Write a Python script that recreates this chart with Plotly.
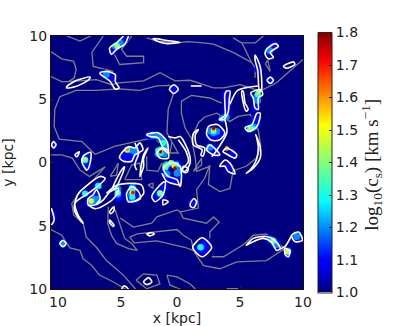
import plotly.graph_objects as go

NAVY = "#00007f"
GRAY = "#808080"

JET = [
    [0.0, "rgb(0,0,127)"], [0.11, "rgb(0,0,255)"], [0.125, "rgb(0,0,255)"],
    [0.35, "rgb(0,255,255)"], [0.375, "rgb(20,255,226)"], [0.64, "rgb(255,255,0)"],
    [0.66, "rgb(255,238,0)"], [0.89, "rgb(255,0,0)"], [1.0, "rgb(127,0,0)"],
]

TICKS = [-10, -5, 0, 5, 10]
# the minus signs do not show in the original, only the gap they leave
X_TICK_LABELS = ["\u200310", "\u20035", "0", "5", "10"]
Y_TICK_LABELS = ["10", "5", "0", "5", "10"]
CBAR_TICKS = [1.0, 1.1, 1.2, 1.3, 1.4, 1.5, 1.6, 1.7, 1.8]

# grey contours, kpc
gray_paths = [
    [(-10, 8.75), (-9.15, 8.2), (-8.2, 8), (-8, 7.35), (-8.15, 6.7), (-8.6, 6.4), (-9.15, 6.4), (-10, 6.8)],
    [(-4.9, 5.8), (-6.4, 5.7), (-8, 5.7), (-9.3, 5.2), (-9.7, 4.2), (-9.75, 2.85), (-9.35, 1.85), (-7.55, 1.65),
     (-6.5, 0.65), (-4.9, 1.3), (-2.4, 1.85), (-1.35, 1.95)],
    [(-8.6, 6.4), (-6.4, 6.55), (-5.2, 6.15), (-4.65, 6.3), (-2.65, 6.45), (-1.35, 7.1), (-0.15, 6.45), (1.05, 6.5),
     (2.9, 5.9), (3.7, 5.9), (5, 6.15), (6.6, 5.65), (7.9, 6.3), (10, 8.15)],
    [(-5.05, 5.85), (-2.95, 5.7), (-1.6, 6.05), (-0.55, 6.1), (-0.3, 5.35), (-0.7, 4.2), (-0.8, 2.35), (-0.4, 1.65),
     (0.1, 0.75), (-0.55, 0.75), (-0.4, 1.65)],
    [(1.15, 1.9), (0.65, 2.7), (0.35, 3.9), (0.35, 4.85), (1.15, 5.3), (2.6, 5.1), (3.55, 4.7)],
    [(1.15, 1.9), (1.7, 3.15), (2.2, 3.6), (3.15, 3.9), (4.2, 3.25), (4.85, 3.65), (5.8, 3.8), (6.45, 2.6), (6.65, 1.3),
     (6.3, 0.35), (5.5, -0.3), (4.45, -0.65), (4.2, -2.05), (3.4, -2.3), (2.5, -1.75), (2.6, -0.3), (1.55, -0.7),
     (1.45, 0.35), (1.15, 1.9)],
    [(2.6, -0.2), (2.2, -1.25), (1.55, -2.15), (1.7, -3.6), (0.25, -3.9), (0.5, -4.4), (2.35, -4.8), (2.9, -4.3),
     (3.35, -4.7), (2.6, -5.5), (2.6, -6)],
    [(-10, -5.3), (-9.15, -5.75), (-8.5, -6.75), (-7.7, -6.95), (-7.45, -7.6), (-6.8, -8.1), (-6.15, -8.9),
     (-5.05, -9.45), (-4.1, -10)],
    [(-7.7, -2.3), (-8.35, -3.25), (-8.2, -4.15), (-7.45, -4.8), (-7.2, -5.9), (-6.4, -6.7), (-5.6, -7.75),
     (-4.25, -8.9), (-3.3, -10)],
    [(-5.45, -3.5), (-5.5, -4.8), (-5.2, -5.75), (-4.8, -6.4), (-3.85, -6.8), (-3.15, -6.95), (-3.6, -6.4),
     (-4.15, -6), (-4.65, -4.55), (-4.9, -3.75)],
    [(-4.5, -4.4), (-3.45, -5.1), (-2, -4.8), (-1.6, -4.3), (0, -3.75), (0.25, -3.9)],
    [(-3.75, -5.9), (-3.15, -5.65), (0, -5.3), (0.5, -5.75), (1.15, -6.15), (1.3, -6.95), (2.1, -8.15), (3.4, -8.4),
     (4.75, -7.85), (7.1, -7.75), (8.55, -6.8)],
    [(-3.75, -5.9), (-3.4, -6.35), (-1.6, -6.2), (0.6, -6.7), (1.3, -6.95)],
    [(2.75, -7.45), (3.7, -7.45), (5.4, -6.4), (6.05, -5.75), (7.1, -5.65), (7.9, -6.25), (8.55, -6.8), (9.1, -5.75),
     (9.35, -5.5), (10, -6)],
    [(-0.8, -8.9), (0, -9.05), (1.05, -9.6), (1.45, -10)],
    [(-0.8, -8.9), (-0.55, -9.7), (0.25, -10)],
    [(-3.25, -9.3), (-2.65, -8.8), (-1.6, -8.9), (-1.35, -9.6), (-2.4, -9.98), (-3.25, -9.3)],
    [(3.95, -9.97), (4.85, -9.97)],
    [(-10, 0.6), (-9.15, 0.6), (-8.3, 0.35), (-7.7, -0.6), (-6.95, -1.1), (-5.7, -0.35), (-6.75, -1.5), (-7.7, -2.3)],
    [(-5.3, -1.1), (-4.65, -0.05), (-4.8, -1), (-5.3, -1.1)],
    [(-4.15, -1.35), (-3.6, -0.2), (-2.95, -0.05), (-2.8, -1.35), (-4.15, -1.35)],
    [(-2.3, -1.75), (-1.9, -1.65), (-1.9, -2.05), (-2.3, -1.75)],
    [(-1.75, 1.95), (-1.35, 1.8), (-1.4, 1.55), (-1.75, 1.95)],
    [(1.95, 0.35), (1.3, -0.7), (1.95, -0.2), (1.95, 0.35)],
    [(-2.4, 0.5), (-2.4, -0.6), (-1.5, -0.7), (-1.2, -0.05)],
    [(4.45, 9.85), (5.15, 9.45), (5.95, 7.85), (6.2, 7.5), (6.2, 6.7)],
    [(6.85, 10), (6.2, 9.45), (5.15, 9.45)],
    [(-2.4, 9.85), (-1.6, 9.6), (0, 9.45), (0.9, 9.55), (2.1, 9.45), (2.9, 9.35), (4.45, 8.7), (5.95, 7.9)],
    [(7, 7.8), (7.4, 7.2), (7.2, 8.1), (7, 7.8)],
    [(-8.75, 10), (-7.7, 9.6), (-6.85, 10)],
    [(-5.85, 10), (-6.75, 8.7), (-6.65, 7.6), (-5.05, 7.2)],
    [(-5.05, 8.7), (-4.55, 7.75), (-2.65, 7.9), (-2.65, 8.4), (-4, 8.4), (-4.4, 8.95), (-3.6, 10)],
]

# white contours, kpc
white_paths = [
    [(-4.25, 10), (-4.8, 9.45), (-5.35, 9.05), (-5.2, 8.55), (-4.8, 8.95), (-4.15, 9.35), (-3.85, 10)],
    [(-6.1, 7.1), (-5.6, 7.2), (-4.9, 6.95), (-4.9, 6.4), (-4.6, 5.9), (-4.9, 5.8), (-5.3, 6.4), (-6.1, 7), (-6.1, 7.1)],
    [(-8.75, 6), (-7.95, 6.5), (-6.9, 6.75), (-7, 6.55), (-8.05, 6), (-8.75, 5.9), (-8.75, 6)],
    [(-0.25, 6.15), (0.1, 5.8), (-0.25, 5.45), (-0.6, 5.8), (-0.25, 6.15)],
    [(1.1, 6.05), (1.95, 6.05)],
    [(-1.9, 9.8), (-0.8, 9.65), (0.25, 9.5), (-0.8, 9.4), (-1.6, 9.6), (-1.9, 9.8)],
    [(7.1, 8.95), (7.8, 9.4), (8.05, 9.2), (7.4, 8.7), (7.65, 8.3), (7.25, 8.2), (7, 8.55), (7.1, 8.95)],
    [(8.45, 7.6), (9.25, 7.95), (9.35, 7.75), (8.7, 7.45), (8.45, 7.6)],
    [(7.4, 6.75), (7.65, 6.5), (7.4, 6.25), (7.15, 6.5), (7.4, 6.75)],
    [(6.2, 8.5), (6.6, 7.6), (6.7, 5.75), (6.55, 5.6), (6.4, 7.3), (6.2, 8.1), (6.2, 8.5)],
    [(3.95, 5.65), (4.2, 5.65), (4.15, 5), (4.05, 3.95), (3.7, 3.4), (3.35, 3.4), (3.8, 3.7), (3.8, 4.6), (3.8, 5.4), (3.95, 5.65)],
    [(4.2, 4.6), (4.75, 5.65), (5.4, 5.9), (6.45, 6.05)],
    [(5.25, 5.65), (5.4, 4.7), (5.65, 4.2), (5.5, 4.05), (5.2, 5), (5.15, 5.65), (5.25, 5.65)],
    [(5.85, 5.5), (6.65, 5.75), (6.8, 5.35), (6.45, 5.1), (6.45, 4.2), (6.2, 4.3), (6.05, 5.1), (5.85, 5.5)],
    [(6.6, 3.9), (6.35, 2.85), (5.65, 2.45), (5.4, 2.75), (5.95, 3), (6.35, 3.9), (6.6, 3.9)],
    [(2.5, 2.85), (3.2, 3), (3.8, 2.35), (3.4, 1.8), (2.75, 1.75), (2.35, 2.2), (2.5, 2.85)],
    [(3.8, 3.4), (3.95, 2.35), (3, 0.75), (2.75, 0.45)],
    [(1.7, 2.6), (1.45, 2.2), (1.55, 1.4), (2.2, 1.15), (2.05, 0.5), (1.9, 0.6), (2, 1), (1.3, 1.4), (1.3, 2.3), (1.7, 2.6)],
    [(2.6, 1.4), (3.4, 0.6), (2.9, 0.6), (2.35, 1), (2.6, 1.4)],
    [(3.95, 1.15), (4.75, 0.6), (4.6, 0.35), (3.8, 0.75), (3.65, 0.85), (3.95, 1.15)],
    [(3.8, 0.2), (4.2, -0.05), (4.6, -0.9), (4.05, -0.7), (3.8, -0.3), (3.4, -0.3), (3.8, 0.2)],
    [(6.25, 2.2), (6.6, 1.25), (6.6, 0.35), (6.05, -0.45), (5.5, -0.85), (5.8, -0.6), (6.3, 0.2), (6.45, 1.15), (6.3, 2.05), (6.25, 2.2)],
    [(-2.4, 2.2), (-1.5, 2.35), (-0.8, 1.65), (-0.7, 0.75), (-1.1, 1.15), (-1.5, 1.95), (-2.15, 2.05), (-2.4, 2.2)],
    [(-1.6, 0.75), (-1.1, 1.15), (-0.7, 0.9), (-0.7, 0.35), (-1.35, 0.35), (-1.6, 0.75)],
    [(-0.7, 2.05), (-0.15, 1.95), (0.25, 2.05), (0.9, 0.9), (1.05, 0), (0.65, -0.7), (0.35, -0.6), (0.9, 0.05), (0.7, 0.9), (0.1, 1.8)],
    [(-1.1, -0.45), (-0.4, 0), (0.25, -0.3), (0.35, -1.25), (0.25, -1.9), (0, -1.35), (-0.7, -1.1), (-1.1, -0.45)],
    [(-1.2, -0.85), (-0.8, -1.5), (0.25, -1.8)],
    [(0.5, -0.3), (0.9, -0.5), (0.75, -0.8), (0.45, -0.7), (0.5, -0.3)],
    [(-4.5, 0.6), (-3.85, 1.25), (-3.35, 1.15), (-2.95, 1.55), (-2.7, 1), (-3.35, 0.6), (-3.6, 0.1), (-4.25, 0.1), (-4.55, 0.35), (-4.5, 0.6)],
    [(-2.3, 1.15), (-2.65, 0.6), (-2.95, -1.1), (-2.65, -0.3), (-2.65, 0.35), (-2.3, 1.15)],
    [(-3.35, 1.55), (-3.05, 0.75), (-3.35, -0.2), (-3.2, -0.6)],
    [(-8.1, 0.6), (-7.75, 0.85), (-7.95, 0.45), (-8.1, 0.6)],
    [(-7.45, 0.5), (-6.85, 0.8), (-6.9, -0.05), (-7.15, -0.6), (-7.55, 0.05), (-7.45, 0.5)],
    [(-7.7, -2.3), (-6.1, -1.1), (-5.7, -1.25), (-7.05, -2.45), (-7.7, -2.85), (-8.1, -3.25), (-7.85, -4.15), (-7.45, -4.8),
     (-7.7, -4.55), (-8.15, -3.75), (-7.95, -2.7), (-7.7, -2.3)],
    [(-7.05, -3.35), (-6.5, -3.65), (-5.55, -3.25), (-4.9, -2.7), (-4.65, -2.05), (-5.3, -2.3), (-5.85, -2.95), (-6.4, -3.35)],
    [(-7.05, -2.85), (-6.65, -2.55), (-6.4, -2.15), (-6.1, -2.85), (-6.5, -3.35), (-7.05, -3.35), (-7.05, -2.85)],
    [(-5.6, -2.45), (-4.8, -1.8), (-3.45, -1.65), (-2.8, -1.8), (-2.65, -2.45), (-3.35, -3.1)],
    [(-4, -2.45), (-3.6, -1.9), (-3.05, -2.3), (-2.9, -2.85), (-3.85, -3.1), (-4, -2.45)],
    [(-4.9, -2.05), (-4.15, -0.35), (-4.4, -0.6), (-5.1, -2.05), (-4.9, -2.05)],
    [(-2, -2.7), (-1.6, -2.05), (-0.95, -1.5), (-1.1, -2.55), (-1.75, -3.1), (-2, -2.7)],
    [(-1.1, -2.95), (-0.7, -3.1), (-1.1, -3.35), (-1.1, -2.95)],
    [(-5.35, -3.9), (-5, -3.5), (-5, -3.8), (-5.25, -4.05), (-5.35, -3.9)],
    [(-5.35, -4.55), (-5, -4.95), (-5.05, -5.05), (-5.35, -4.75), (-5.35, -4.55)],
    [(-2.4, -5.65), (-2, -5.55), (-1.8, -5.65), (-2.15, -5.8), (-2.4, -5.65)],
    [(-9.98, -3.6), (-9.75, -4.55), (-9.98, -4.95)],
    [(-9.05, -6.15), (-8.8, -6.4), (-9.05, -6.65), (-9.3, -6.4), (-9.05, -6.15)],
    [(-9.8, 1.65), (-9.6, 1.4), (-9.8, 1.15), (-9.95, 1.4), (-9.8, 1.65)],
    [(-4.4, -10), (-4.2, -9.75), (-3.85, -10)],
    [(-2.65, -9.45), (-2.25, -9.1), (-2, -9.45), (-2.4, -9.65), (-2.65, -9.45)],
    [(1.05, -3.25), (1.35, -2.85), (1.55, -3.1), (1.35, -3.55), (1.1, -3.5), (1.05, -3.25)],
    [(1.25, -6.7), (2, -5.95), (2.75, -6.7), (2, -7.45), (1.25, -6.7)],
    [(5.5, -6.55), (6.05, -6), (7.1, -5.85), (7.75, -6.15), (8.2, -6.8), (7.9, -6.95), (7.5, -6.3), (6.85, -6), (5.95, -6.3), (5.5, -6.55)],
    [(8.55, -6.8), (8.95, -6.95), (8.85, -7.45), (8.6, -7.3), (8.55, -6.8)],
    [(9.1, -5.75), (9.65, -5.5), (9.95, -6.15), (9.35, -6.25), (9.1, -5.75)],
    [(8.2, -6.85), (8.6, -6.6), (9.1, -5.75)],
]

# blob samples per colour level, kpc
level_values = [1.1, 1.2, 1.3, 1.42, 1.52, 1.62, 1.72, 1.79]
level_spots = [
    [(-5.1, 8.85), (-4.8, 9.15), (-4.4, 9.5), (-4.1, 9.85), (-5.85, 7.05), (-5.5, 6.8), (-5.1, 6.55), (-0.25, 5.8),
     (7.3, 8.8), (7.45, 9), (7.7, 9.25), (6.45, 7.4), (7.4, 6.5), (6.3, 4.6), (6.3, 5.1), (4, 5), (3.95, 4.3), (3.6, 3.45),
     (6.2, 3.5), (6.35, 3.1), (5.7, 2.65), (2.9, 2.1), (3.2, 2.2), (2.6, 2.4), (2.9, 2.5), (3.4, 2.3), (2.6, 2.1),
     (3.1, 0.75), (2.6, 1.2), (2.9, 1.1), (4.4, 0.7), (4.1, -0.4), (3.95, 3.9), (4.05, 4.7), (3.9, 5.4), (6.25, 4.3),
     (5.95, 2.9), (-2.2, 2.15), (-1.9, 2.15), (-1.6, 2.1), (-1.25, 1.95), (-1, 1.6), (-0.9, 1.25), (-1.3, 0.8), (-1, -0.8),
     (-0.6, -1.3), (-0.3, -1.4), (0, -1.3), (0.15, -1.05), (0.2, -0.6), (0.05, -0.15), (-0.6, -0.2), (-4.2, 0.4),
     (-3.6, 0.3), (-3.2, 0.7), (-3.3, 1), (-3.75, 0.6), (-3.9, 0.95), (-7.1, -0.3), (-7.3, 0.2), (-7.25, -0.1), (-7.2, 0.5),
     (-3.6, -2.5), (-3.5, -2.1), (-3.5, -2.7), (-3.8, -2.9), (-3.85, -2.5), (-3.25, -2.5), (-3.35, -2.9), (-4.7, -2.45),
     (-4.75, -2.1), (-4.65, -2.8), (-6.75, -3.2), (-6.5, -3.2), (-7, -3.2), (-6.3, -2.9), (-6.6, -2.5), (-6.25, -1.8),
     (-7.3, -2.45), (-1.35, -2.45), (-1, -2), (-1.7, -2.6), (-1.7, -2.4), (-1.2, -2.7), (1.2, -3.2), (2, -6.7), (2.3, -6.6),
     (1.7, -6.9), (2.2, -6.95), (2.3, -6.3), (7.65, -6.2), (7.9, -6.35), (7.3, -6.05), (7.9, -6.6), (8.8, -7.1),
     (8.75, -7.3), (9.5, -5.9), (9.3, -5.9), (9.7, -5.9), (-9.05, -6.4), (-9.8, 1.4), (-9.9, -4.2)],
    [(-4.9, 9.2), (-4.5, 9.45), (-5.6, 6.95), (7.35, 8.85), (6.35, 5.2), (6.4, 4.9), (6.1, 2.8), (5.8, 2.65), (2.9, 2.35),
     (2.65, 2.5), (3.15, 2.45), (2.6, 1.2), (3.6, 3.5), (3.9, 3.6), (-1.9, 2.15), (-1.5, 2.1), (-1.15, 1.75), (-0.9, 1.3),
     (-1.3, 1), (-1.5, 0.7), (-1, 0.7), (0.15, -0.55), (0, -0.85), (-0.8, -0.9), (-0.9, -0.2), (-3.4, 0.9), (-3.9, 1),
     (-3.75, 1), (-7.3, 0.2), (-3.6, -2.55), (-3.55, -2.8), (-3.5, -2.05), (-3.55, -1.95), (-4.7, -2.5), (-4.7, -2.1),
     (-6.75, -3.15), (-6.3, -2.9), (-6.5, -2.9), (-6.25, -1.85), (-1.35, -2.45), (1.9, -6.7), (7.7, -6.3), (7.5, -6.1),
     (7.85, -6.5), (8.8, -7), (9.5, -5.85), (-9.05, -6.4)],
    [(-4.75, 9.2), (6.4, 5.4), (5.8, 2.65), (5.95, 2.7), (2.9, 2.45), (-1.3, 1), (-1.3, 0.75), (-1.5, 0.95), (-1.1, 1.55),
     (-0.4, -0.05), (-0.9, -0.4), (-0.75, -0.15), (-0.05, -0.15), (-3.95, 1), (-7.3, 0.2), (-3.55, -2.4), (-3.55, -2.7),
     (-3.55, -2.1), (-4.7, -2.4), (-6.8, -3.05), (-1.35, -2.45), (7.65, -6.2), (8.8, -7.05), (-6.25, -1.85), (-7.3, -2.45),
     (1.85, -6.7)],
    [(-4.75, 9.2), (6.45, 5.5), (5.8, 2.65), (2.9, 2.55), (-1.3, 0.95), (-0.95, -0.3), (-0.5, 0), (-3.95, 1), (-7.3, 0.25),
     (-3.55, -2.35), (-4.7, -2.4), (-6.8, -3.05), (-1.35, -2.4), (7.65, -6.15), (8.8, -7.05)],
    [(2.9, 2.6), (-1.3, 0.9), (-0.25, -0.3), (-3.95, 1), (-3.55, -2.35), (-6.8, -3.05), (8.8, -7.05), (3.95, 1.1)],
    [(2.9, 2.65), (-1.3, 0.85), (-0.15, -0.4), (-3.95, 1.05), (-3.5, -2.35), (3.95, 1.1)],
    [(2.9, 2.7), (-1.3, 0.85), (-0.15, -0.45), (-3.5, -2.4)],
    [(2.9, 2.7), (-1.3, 0.85), (-0.15, -0.45)],
]
level_sizes = [8.5, 7, 6, 5, 4.5, 4, 3.5, 2.5]

fig = go.Figure()

for path in gray_paths:
    fig.add_trace(go.Scatter(
        x=[p[0] for p in path], y=[p[1] for p in path], mode="lines",
        line=dict(color=GRAY, width=1.3), hoverinfo="skip", showlegend=False,
    ))

for value, spots, size in zip(level_values, level_spots, level_sizes):
    fig.add_trace(go.Scatter(
        x=[p[0] for p in spots], y=[p[1] for p in spots], mode="markers",
        marker=dict(size=size, color=[value] * len(spots), coloraxis="coloraxis", line=dict(width=0)),
        hoverinfo="skip", showlegend=False,
    ))

for path in white_paths:
    fig.add_trace(go.Scatter(
        x=[p[0] for p in path], y=[p[1] for p in path], mode="lines",
        line=dict(color="white", width=1.6, shape="spline", smoothing=0.8), hoverinfo="skip", showlegend=False,
    ))

axis_style = dict(
    range=[-10, 10], tickvals=TICKS, ticks="inside", ticklen=3, tickcolor="#222222",
    showgrid=False, zeroline=False, showline=True, linecolor="#111111", linewidth=1.2, mirror=True,
    tickfont=dict(family="DejaVu Sans", size=14, color="#222222"),
)

fig.update_layout(
    width=407, height=326,
    margin=dict(l=51, r=104, t=36, b=37, autoexpand=False),
    paper_bgcolor="white", plot_bgcolor=NAVY,
    xaxis=dict(title=dict(text="x [kpc]", font=dict(family="DejaVu Sans", size=14, color="#222222"), standoff=8),
               ticktext=X_TICK_LABELS, **axis_style),
    yaxis=dict(title=dict(text="y [kpc]", font=dict(family="DejaVu Sans", size=14, color="#222222"), standoff=14),
               ticktext=Y_TICK_LABELS, **axis_style),
    coloraxis=dict(
        cmin=1.0, cmax=1.8, colorscale=JET,
        colorbar=dict(
            thickness=14, thicknessmode="pixels", len=260, lenmode="pixels", x=1.06, xanchor="left",
            y=0.5, yanchor="middle", ypad=0, xpad=0, tickvals=CBAR_TICKS,
            ticktext=["%.1f" % t for t in CBAR_TICKS], ticks="inside", ticklen=3, tickcolor="#222222",
            outlinecolor="#222222", outlinewidth=1, tickfont=dict(family="DejaVu Sans", size=14, color="#222222"),
        ),
    ),
    annotations=[dict(
        text="log<sub>10</sub>(c<sub>s</sub>) [km s<sup>−1</sup>]", xref="paper", yref="paper", x=1.33, y=0.49,
        textangle=-90, showarrow=False, font=dict(family="Liberation Serif", size=19, color="#222222"),
    )],
)

fig.write_html("out.html", config=dict(displayModeBar=False), post_script="document.body.style.margin='0';")
